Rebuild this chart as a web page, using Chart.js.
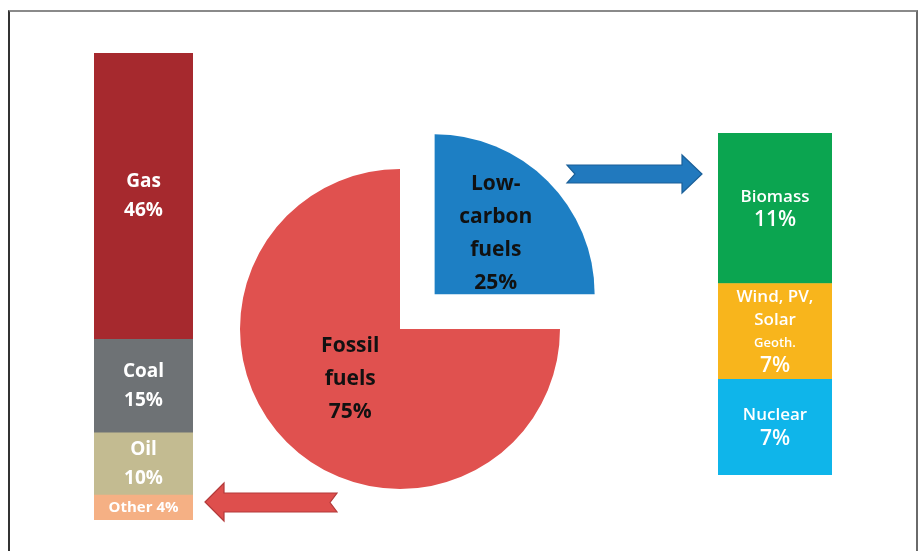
<!DOCTYPE html>
<html>
<head>
<meta charset="utf-8">
<script src="https://cdn.jsdelivr.net/npm/chart.js@4/dist/chart.umd.min.js"></script>
<style>
body { margin: 0; background: #fff; width: 919px; height: 551px; overflow: hidden; position: relative; font-family: "Open Sans", sans-serif; }
#frame { position: absolute; left: 8px; top: 10px; width: 906px; height: 600px; border-top: 2px solid #8a8a8a; border-left: 2px solid #333; border-right: 2px solid #6a6a6a; }
.box { position: absolute; }
</style>
</head>
<body>
<div id="frame"></div>
<div class="box" style="left:0;top:0;width:919px;height:551px"><canvas id="pieChart"></canvas></div>
<div class="box" style="left:94px;top:53px;width:99px;height:467px"><canvas id="fossilBar"></canvas></div>
<div class="box" style="left:718px;top:133px;width:114px;height:342px"><canvas id="lowBar"></canvas></div>
<script>
// split of total supply
const pieLabels = [['Low-', 'carbon', 'fuels'], ['Fossil', 'fuels']];
const pieValues = [25, 75];

// fossil fuels breakdown, top to bottom
const fossilLabels = ['Gas', 'Coal', 'Oil', 'Other'];
const fossilValues = [46, 15, 10, 4];

// low-carbon breakdown, top to bottom
const lowLabels = [['Biomass'], ['Wind, PV,', 'Solar', 'Geoth.'], ['Nuclear']];
const lowValues = [11, 7, 7];

const pieColors = ['#1d7fc4', '#e0514f'];
const fossilColors = ['#a6292e', '#6e7275', '#c3bb91', '#f5b084'];
const lowColors = ['#0ba550', '#f8b51c', '#0fb5ea'];

function drawLines(ctx, lines, x, y, gap) {
    const top = y - (lines.length - 1) * gap / 2;
    lines.forEach((l, i) => {
        ctx.font = l.font;
        ctx.fillText(l.text, x, top + i * gap);
    });
}

const barLabelPlugin = {
    id: 'barLabels',
    afterDatasetsDraw(chart, args, opts) {
        const ctx = chart.ctx;
        ctx.save();
        ctx.fillStyle = '#fff';
        ctx.textAlign = 'center';
        ctx.textBaseline = 'middle';
        chart.data.datasets.forEach((ds, i) => {
            const bar = chart.getDatasetMeta(i).data[0];
            const midY = (bar.y + bar.base) / 2;
            const h = Math.abs(bar.base - bar.y);
            const value = ds.data[0] + '%';
            let lines = ds.nameLines.map(t => ({text: t, font: t === 'Geoth.' ? opts.smallFont : opts.nameFont}));
            lines.push({text: value, font: opts.valueFont});
            if (lines.length * opts.gap > h + 4) {
                // segment too thin for stacked text: put it on one line
                lines = [{text: ds.nameLines.join(' ') + ' ' + value, font: opts.tinyFont}];
            }
            drawLines(ctx, lines, bar.x, midY, opts.gap);
        });
        ctx.restore();
    }
};

const pieDecor = {
    id: 'pieDecor',
    afterDatasetsDraw(chart, args, opts) {
        const ctx = chart.ctx;
        const meta = chart.getDatasetMeta(0);
        ctx.save();
        ctx.fillStyle = '#111';
        ctx.textAlign = 'center';
        ctx.textBaseline = 'middle';
        meta.data.forEach((arc, i) => {
            const p = arc.getProps(['x', 'y', 'startAngle', 'endAngle', 'outerRadius']);
            const mid = (p.startAngle + p.endAngle) / 2;
            // arcs are shifted by a quarter of their offset option
            const off = (arc.options.offset || 0) / 4;
            const d = off + p.outerRadius * opts.labelRadius[i];
            const lines = pieLabels[i].map(t => ({text: t, font: opts.font}));
            lines.push({text: pieValues[i] + '%', font: opts.font});
            drawLines(ctx, lines, p.x + Math.cos(mid) * d, p.y + Math.sin(mid) * d, opts.gap);
        });
        // arrows
        const arrow = (pts, fill, stroke) => {
            ctx.beginPath();
            pts.forEach((q, i) => i ? ctx.lineTo(q[0], q[1]) : ctx.moveTo(q[0], q[1]));
            ctx.closePath();
            ctx.fillStyle = fill;
            ctx.fill();
            ctx.lineWidth = 1.2;
            ctx.strokeStyle = stroke;
            ctx.stroke();
        };
        arrow([[205, 502], [224, 483], [224, 493], [337, 493], [330, 502.5], [337, 512], [224, 512], [224, 521]], '#de4f4d', '#b33a3a');
        arrow([[567, 165], [682, 165], [682, 155], [702, 174], [682, 193], [682, 183], [567, 183], [575, 174]], '#2179be', '#1a5f98');
        ctx.restore();
    }
};

new Chart(document.getElementById('pieChart'), {
    type: 'pie',
    data: {
        labels: pieLabels.map(l => l.join(' ')),
        datasets: [{
            data: pieValues,
            backgroundColor: pieColors,
            borderWidth: 0,
            offset: [196, 0]
        }]
    },
    options: {
        responsive: true,
        maintainAspectRatio: false,
        animation: false,
        radius: 160,
        layout: { padding: { left: 0, right: 119, top: 107, bottom: 0 } },
        plugins: {
            legend: { display: false },
            tooltip: { enabled: false },
            pieDecor: { labelRadius: [0.54, 0.44], gap: 33, font: 'bold 21px "Open Sans", sans-serif' }
        }
    },
    plugins: [pieDecor]
});

function stackBar(id, labels, values, colors, labelOpts) {
    const total = values.reduce((a, b) => a + b, 0);
    // stacked bars build from the bottom, so reverse the top-to-bottom lists
    const datasets = values.map((v, i) => ({
        label: [].concat(labels[i]).join(' '),
        nameLines: [].concat(labels[i]),
        data: [v],
        backgroundColor: colors[i],
        borderWidth: 0
    })).reverse();
    new Chart(document.getElementById(id), {
        type: 'bar',
        data: { labels: [''], datasets: datasets },
        options: {
            responsive: true,
            maintainAspectRatio: false,
            animation: false,
            layout: { padding: 0 },
            datasets: { bar: { barPercentage: 1, categoryPercentage: 1 } },
            scales: {
                x: { stacked: true, display: false },
                y: { stacked: true, display: false, min: 0, max: total }
            },
            plugins: {
                legend: { display: false },
                tooltip: { enabled: false },
                barLabels: labelOpts
            }
        },
        plugins: [barLabelPlugin]
    });
}

stackBar('fossilBar', fossilLabels, fossilValues, fossilColors, {
    nameFont: 'bold 19px "Open Sans", sans-serif',
    smallFont: 'bold 14px "Open Sans", sans-serif',
    valueFont: 'bold 19px "Open Sans", sans-serif',
    tinyFont: 'bold 15px "Open Sans", sans-serif',
    gap: 29
});
stackBar('lowBar', lowLabels, lowValues, lowColors, {
    nameFont: '600 17px "Open Sans", sans-serif',
    smallFont: '600 13px "Open Sans", sans-serif',
    valueFont: '600 21px "Open Sans", sans-serif',
    tinyFont: '600 14px "Open Sans", sans-serif',
    gap: 23
});
</script>
</body>
</html>
